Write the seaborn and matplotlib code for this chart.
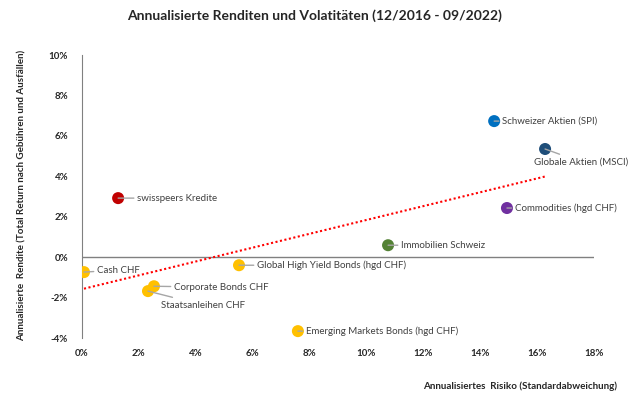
import matplotlib
matplotlib.use("Agg")
import matplotlib.pyplot as plt
import seaborn as sns
import pandas as pd
from matplotlib.ticker import FuncFormatter, MultipleLocator

names = ["Schweizer Aktien (SPI)", "Globale Aktien (MSCI)", "Commodities (hgd CHF)",
         "Immobilien Schweiz", "Global High Yield Bonds (hgd CHF)",
         "Emerging Markets Bonds (hgd CHF)", "Cash CHF", "Corporate Bonds CHF",
         "Staatsanleihen CHF", "swisspeers Kredite"]
risk = [14.49, 16.28, 14.94, 10.76, 5.52, 7.59, 0.07, 2.53, 2.32, 1.27]
ret = [6.73, 5.35, 2.43, 0.59, -0.40, -3.66, -0.74, -1.44, -1.68, 2.92]
colors = ["#0070C0", "#1F4E79", "#7030A0", "#548235", "#FFC000",
          "#FFC000", "#FFC000", "#FFC000", "#FFC000", "#C00000"]
# label offsets in pixels (dx, dy) and horizontal alignment
offsets = [(8, 0), (36, -13), (8, 0), (13, 0), (18, 0),
           (8, 0), (13, 2), (20, -1), (13, -14), (19, 0)]
aligns = ["left", "center", "left", "left", "left",
          "left", "left", "left", "left", "left"]

df = pd.DataFrame({"name": names, "risk": risk, "ret": ret})

sns.set_style("white")
plt.rcParams["font.family"] = ["Lato", "DejaVu Sans"]

fig = plt.figure(figsize=(6.3, 4.07), dpi=100)
ax = fig.add_axes([82/630, 1-338/407, (594-82)/630, (338-55)/407])

sns.regplot(data=df, x="risk", y="ret", scatter=False, ci=None, ax=ax,
            line_kws=dict(color="#FF0000", linestyle=(0, (1, 1.2)), linewidth=1.5))
sns.scatterplot(data=df, x="risk", y="ret", hue="name", palette=dict(zip(names, colors)),
                s=75, edgecolor="none", legend=False, ax=ax, zorder=3)

for n, x, y, (dx, dy), ha in zip(names, risk, ret, offsets, aligns):
    ax.annotate(n, xy=(x, y), xytext=(dx, dy), textcoords="offset pixels",
                ha=ha, va="center", fontsize=7, color="#404040",
                arrowprops=dict(arrowstyle="-", color="#A6A6A6", lw=1,
                                shrinkA=0, shrinkB=0))

ax.set_xlim(0, 18)
ax.set_ylim(-4, 10)
ax.xaxis.set_major_locator(MultipleLocator(2))
ax.yaxis.set_major_locator(MultipleLocator(2))
ax.xaxis.set_major_formatter(FuncFormatter(lambda v, p: f"{v:.0f}%"))
ax.yaxis.set_major_formatter(FuncFormatter(lambda v, p: f"{v:.0f}%"))
for lab in ax.get_xticklabels() + ax.get_yticklabels():
    lab.set_fontweight("bold")
ax.tick_params(labelsize=7, length=0, pad=8)
ax.tick_params(axis="y", pad=10)
for s in ["top", "right", "bottom"]:
    ax.spines[s].set_visible(False)
ax.spines["left"].set_color("#808080")
ax.axhline(0, color="#808080", lw=1, zorder=1)
ax.set_xlabel("")
ax.set_ylabel("")

fig.text(0.5, 1-16/407, "Annualisierte Renditen und Volatitäten (12/2016 - 09/2022)",
         ha="center", va="center", fontsize=10, fontweight="bold")
fig.text(22/630, 1-195/407, "Annualisierte  Rendite (Total Return nach Gebühren und Ausfällen)",
         rotation=90, ha="center", va="center", fontsize=7.1, fontweight="bold")
fig.text(617/630, 1-386/407, "Annualisiertes  Risiko (Standardabweichung)",
         ha="right", va="center", fontsize=7.1, fontweight="bold")

fig.savefig("out.png", dpi=100)
